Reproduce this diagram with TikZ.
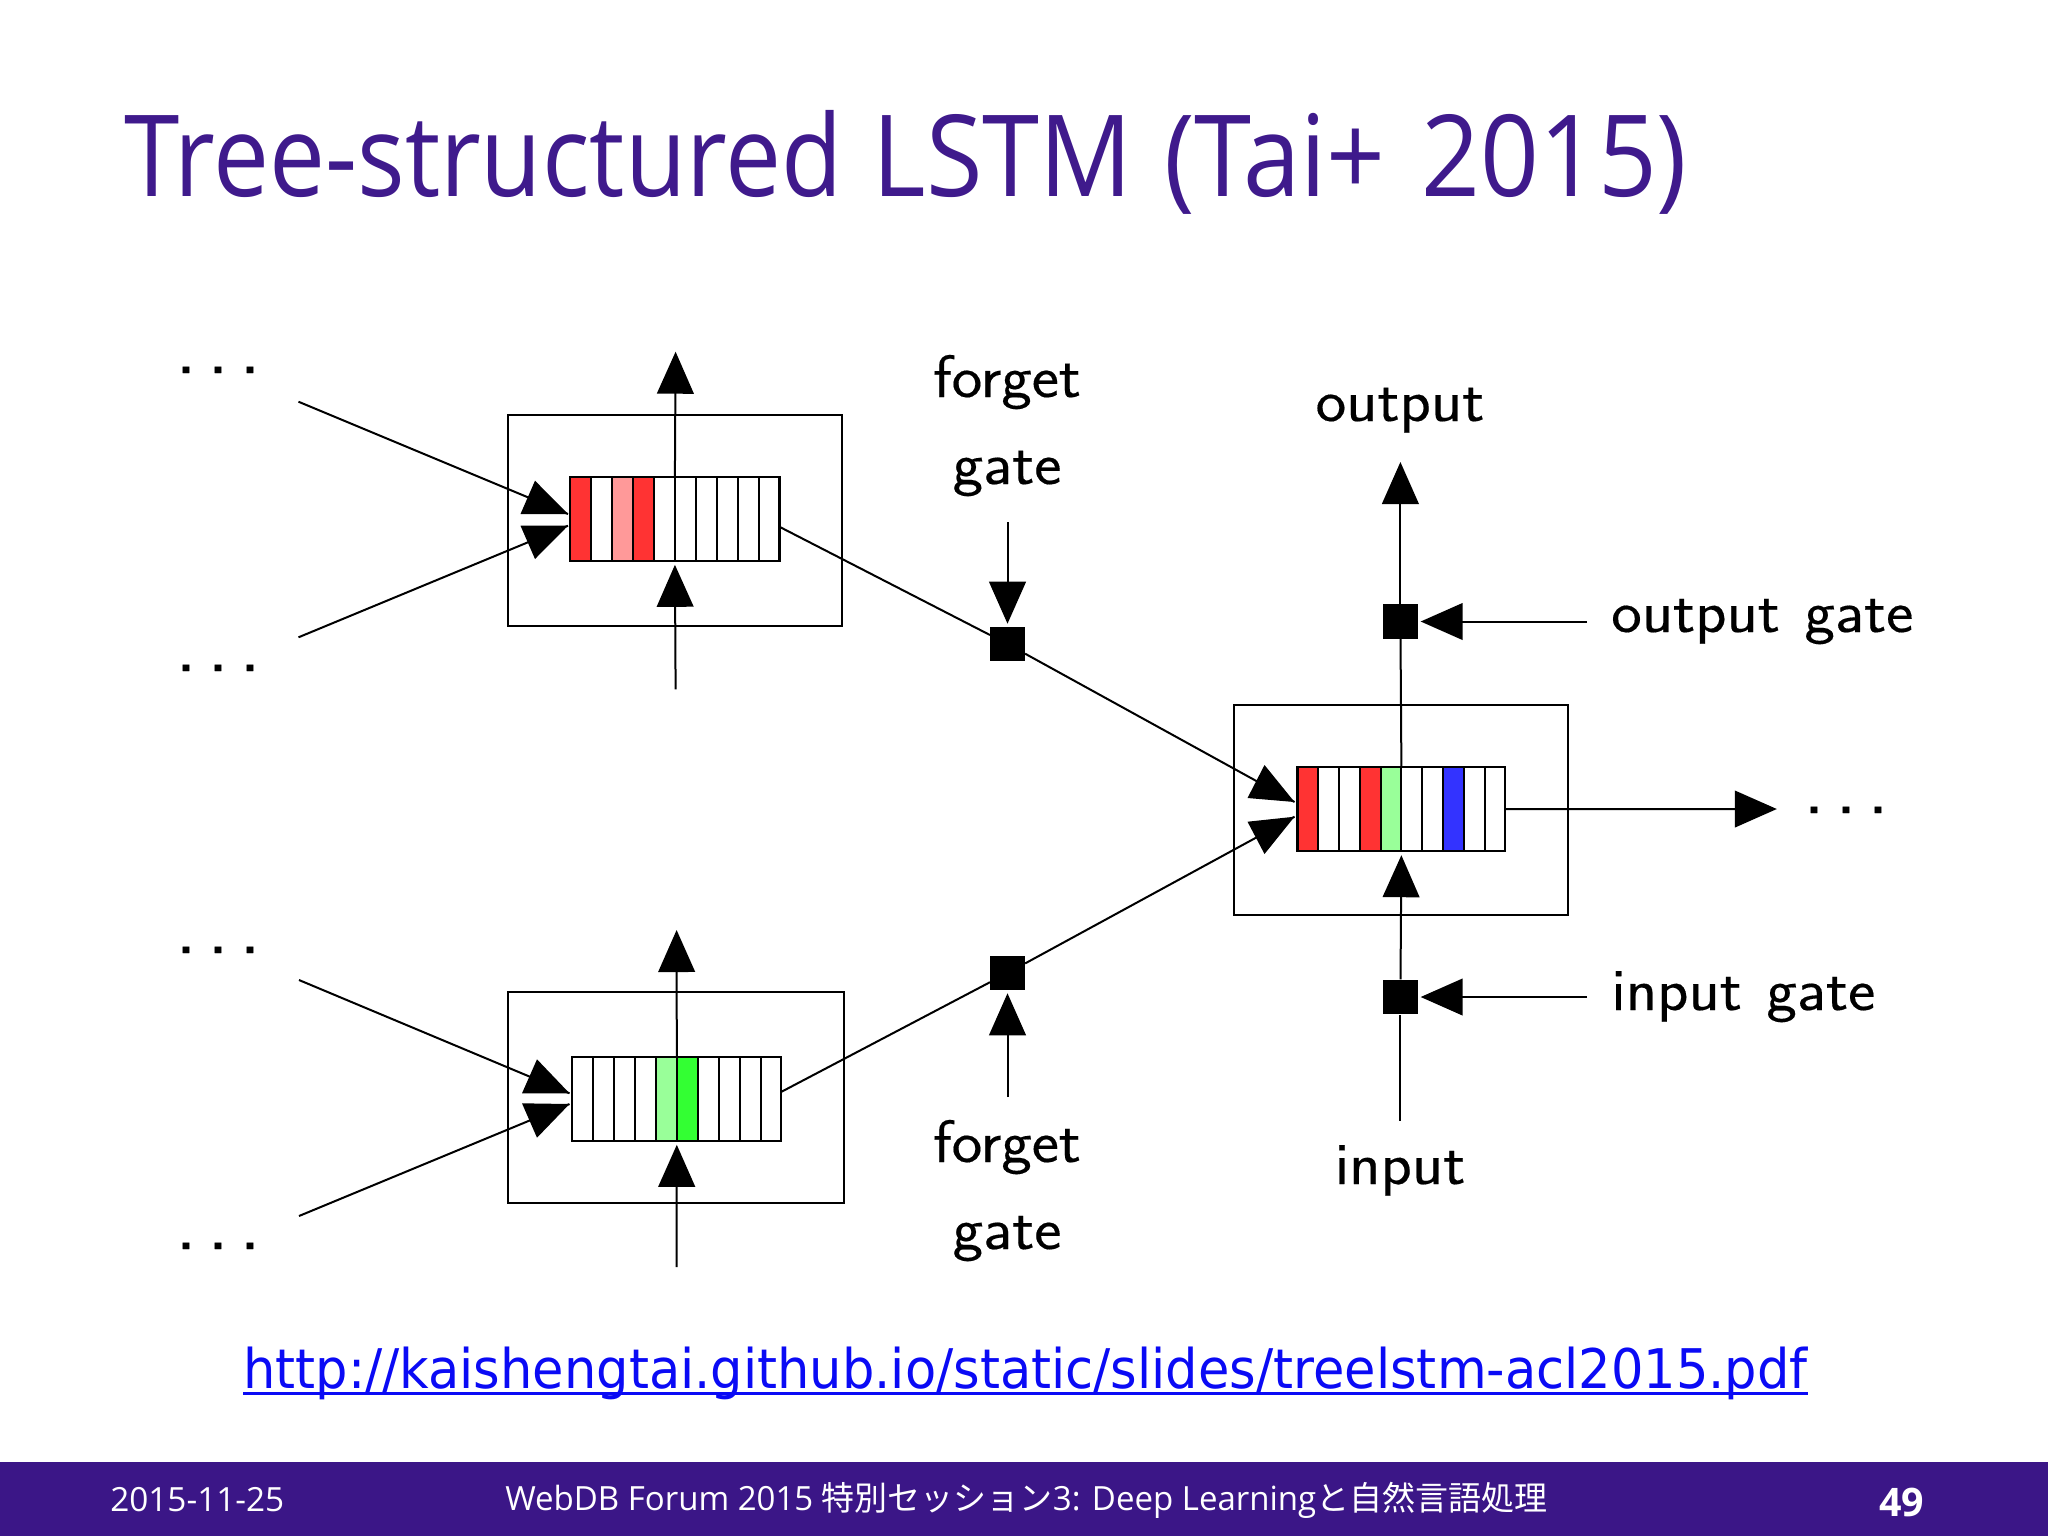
\documentclass[tikz,border=0pt]{standalone}
\usepackage{fontspec}
\setmainfont{Open Sans}
\setsansfont{Latin Modern Sans}[FakeBold=0.25]
\newfontfamily\cjk{Noto Sans CJK JP}
\newfontfamily\linkfont{DejaVu Sans}
\usetikzlibrary{arrows.meta,calc}
\definecolor{slidepurple}{HTML}{3B1687}
\definecolor{titlepurple}{HTML}{3F1A8C}
\definecolor{linkblue}{HTML}{0A0AF5}
\definecolor{cellred}{HTML}{FF3333}
\definecolor{cellpink}{HTML}{FF9999}
\definecolor{cellgreen}{HTML}{33FF33}
\definecolor{celllime}{HTML}{99FF99}
\definecolor{cellblue}{HTML}{3333FF}
\tikzset{
  outerbox/.style={draw,line width=1.6pt,inner sep=0pt,minimum width=250.5pt,minimum height=158pt},
  cellrow/.style={inner sep=0pt,minimum width=156.5pt,minimum height=62.6pt},
  gatesq/.style={fill=black,inner sep=0pt,minimum size=26pt},
  wire/.style={line width=1.5pt},
  bigarrow/.style={wire,-{Triangle[length=31.5pt,width=27.5pt]}},
  lbl/.style={font=\sffamily\fontsize{45}{45}\selectfont,anchor=base,inner sep=0pt,xscale=1.08},
  dotsnode/.style={font=\sffamily\fontsize{60}{60}\selectfont,anchor=base,inner sep=0pt},
  foot/.style={text=white,anchor=base west,inner sep=0pt}
}
\newcommand{\threedots}{\makebox[24pt]{.}\makebox[24pt]{.}\makebox[24pt]{.}}
\newcommand{\cellblock}[4][]{%
  \node[cellrow,#1] (#2) at #3 {};
  \foreach \i/\c in {#4} {
    \fill[\c] ($(#2.south west)!0.1*\i!(#2.south east)$) rectangle ($(#2.north west)!0.1*\i+0.1!(#2.north east)$);
  }
  \foreach \i in {1,...,9} {
    \draw[line width=1.5pt] ($(#2.south west)!0.1*\i!(#2.south east)$) -- ($(#2.north west)!0.1*\i!(#2.north east)$);
  }
  \draw[line width=1.6pt] (#2.south west) rectangle (#2.north east);
}
\begin{document}
\begin{tikzpicture}[x=0.75pt,y=-0.75pt]
\useasboundingbox (0,0) rectangle (2048,1536);
\fill[white] (0,0) rectangle (2048,1536);
% footer bar
\fill[slidepurple] (0,1462) rectangle (2048,1536);
% title
\node[anchor=base west,inner sep=0pt,text=titlepurple,font=\fontsize{85}{85}\selectfont,xscale=0.908] (title) at (124,196) {\scalebox{0.97}[1]{Tree-structured} \hspace{3.2pt}LSTM \hspace{4.3pt}(Tai+ \hspace{7.5pt}2015)};
% boxes
\node[outerbox] (box1) at (675,520.3) {};
\node[outerbox,minimum width=251.7pt] (box2) at (676.1,1097.6) {};
\node[outerbox] (box3) at (1401.4,810) {};
\cellblock{c1}{(674.9,518.8)}{0/cellred,2/cellpink,3/cellred}
\cellblock{c2}{(676.8,1098.8)}{4/celllime,5/cellgreen}
\cellblock[minimum width=155.4pt]{c3}{(1401.4,809.2)}{0/cellred,3/cellred,4/celllime,7/cellblue}
% gate squares
\node[gatesq] (fg1) at (1007.5,644) {};
\node[gatesq] (fg2) at (1007.5,973) {};
\node[gatesq] (og) at (1400.4,621.5) {};
\node[gatesq] (ig) at (1400.4,997) {};
% labels
\node[lbl] (forget1) at (1007,397) {forget};
\node[lbl] (gate1) at (1007,484) {gate};
\node[lbl] (forget2) at (1007,1162) {forget};
\node[lbl] (gate2) at (1007,1249) {gate};
\node[lbl] (outlbl) at (1400,421) {output};
\node[lbl,anchor=base west] (oglbl) at (1611,632) {output\hspace{3pt} gate};
\node[lbl,anchor=base west] (iglbl) at (1611,1010) {input\hspace{3pt} gate};
\node[lbl] (inlbl) at (1400,1184) {input};
% dots
\node[dotsnode] (d1) at (218,373) {\threedots};
\node[dotsnode] (d2) at (218,671) {\threedots};
\node[dotsnode] (d3) at (218,953) {\threedots};
\node[dotsnode] (d4) at (218,1249) {\threedots};
\node[dotsnode] (d5) at (1846,813) {\threedots};
% free ends
\coordinate (a1) at (298.5,401.7);
\coordinate (a2) at (298.5,637.3);
\coordinate (b1) at (299,980);
\coordinate (b2) at (299,1216);
\coordinate (top1) at (675.6,351.7);
\coordinate (bot1) at (675.6,689.3);
\coordinate (top2) at (676.6,930);
\coordinate (bot2) at (676.6,1267);
\coordinate (topout) at (1400.4,462);
\coordinate (inbot) at (1400.4,1120.6);
\coordinate (fgfree1) at (1007.5,522);
\coordinate (fgfree2) at (1007.5,1097);
\coordinate (ogfree) at (1587,621.5);
\coordinate (igfree) at (1587,997);
\coordinate (outr) at (1776.8,809);
% triangle tips into the cell rows
\coordinate (t1u) at (568,514);
\coordinate (t1d) at (568,525.7);
\coordinate (t2u) at (569.5,1093.3);
\coordinate (t2d) at (569.5,1104);
\coordinate (t3u) at (1294.5,802);
\coordinate (t3d) at (1294.5,816.7);
% inputs of left blocks
\draw[wire] (a1) -- (t1u);
\draw[wire] (a2) -- (t1d);
\draw[wire] (b1) -- (t2u);
\draw[wire] (b2) -- (t2d);
\fill (t1u) -- (535,480.7) -- (520.5,514) -- cycle;
\fill (t1d) -- (520.5,525.7) -- (535,559) -- cycle;
\fill (t2u) -- (537,1059.3) -- (522,1093.3) -- cycle;
\fill (t2d) -- (522,1103.3) -- (537,1137.7) -- cycle;
% vertical arrows of left blocks
\draw[bigarrow] (c1.north) -- (top1);
\draw[bigarrow,shorten >=3pt] (bot1) -- (c1.south);
\draw[bigarrow] (c2.north) -- (top2);
\draw[bigarrow,shorten >=3pt] (bot2) -- (c2.south);
% forget paths
\draw[wire] (c1.east) ++(0,8) -- (fg1);
\draw[wire] (c2.east) ++(0,-7) -- (fg2);
\draw[wire] (fg1) -- (t3u);
\draw[wire] (fg2) -- (t3d);
\fill (t3u) -- (1264.5,765) -- (1247.5,798) -- cycle;
\fill (t3d) -- (1247.5,821.7) -- (1264.5,854) -- cycle;
\draw[bigarrow,shorten >=2pt] (fgfree1) -- (fg1);
\draw[bigarrow,shorten >=2pt] (fgfree2) -- (fg2);
% right block
\draw[wire] (c3.north) -- (og);
\draw[bigarrow] (og) -- (topout);
\draw[bigarrow,shorten >=2pt] (ogfree) -- (og);
\draw[bigarrow,shorten >=2pt] (igfree) -- (ig);
\draw[wire] (inbot) -- (ig);
\draw[bigarrow,shorten >=3pt] (ig) -- (c3.south);
\draw[bigarrow] (c3.east) -- (outr);
% link
\node[anchor=base west,inner sep=0pt,text=linkblue,font=\linkfont\fontsize{41}{41}\selectfont,xscale=0.934] (link) at (243,1388) {http://kaishengtai.github.io/static/slides/treelstm-acl2015.pdf};
\draw[linkblue,line width=2pt] ([yshift=-4pt]link.base west) -- ([yshift=-4pt]link.base east);
% footer
\node[foot,font=\fontsize{25}{25}\selectfont] (date) at (110,1511) {2015-11-25};
\node[foot,font=\fontsize{25}{25}\selectfont,xscale=0.99] (conf) at (505,1510) {WebDB Forum 2015 {\cjk 特別セッション}3: Deep Learning{\cjk と自然言語処理}};
\node[foot,font=\bfseries\fontsize{29.5}{29.5}\selectfont] (page) at (1879,1516.5) {49};
\end{tikzpicture}
\end{document}
